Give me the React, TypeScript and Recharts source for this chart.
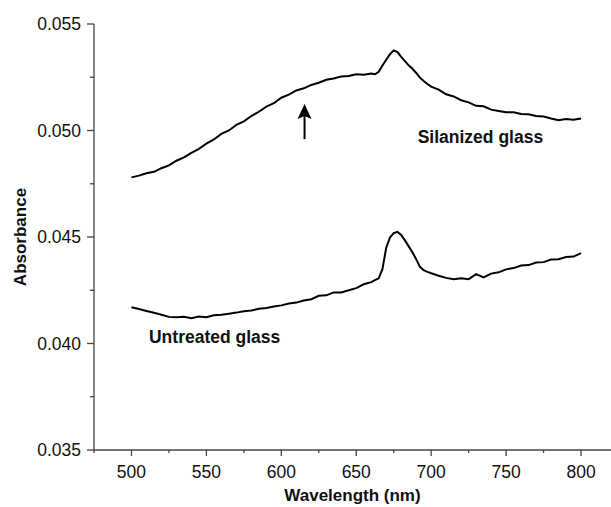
import { LineChart, Line, XAxis, YAxis, ReferenceDot } from 'recharts';

const wavelengths = [
  500, 505, 510, 515, 520, 525, 530, 535, 540, 545, 550, 555, 560, 565, 570, 575, 580, 585, 590, 595,
  600, 605, 610, 615, 620, 625, 630, 635, 640, 645, 650, 655, 660, 662.5, 665, 667.5, 670, 672.5, 675,
  677.5, 680, 682.5, 685, 687.5, 690, 692.5, 695, 697.5, 700, 705, 710, 715, 720, 725, 730, 735, 740,
  745, 750, 755, 760, 765, 770, 775, 780, 785, 790, 795, 800,
];

const silanized = [
  0.0478, 0.04788, 0.04799, 0.04806, 0.04823, 0.04836, 0.04858, 0.04874, 0.04895, 0.04914, 0.04938,
  0.04958, 0.04984, 0.05, 0.05026, 0.05043, 0.05068, 0.05088, 0.05112, 0.05128, 0.05154, 0.05168,
  0.05188, 0.05198, 0.05214, 0.05224, 0.05238, 0.05244, 0.05254, 0.05256, 0.05264, 0.05262, 0.05268,
  0.05264, 0.05276, 0.05305, 0.05332, 0.05358, 0.05376, 0.05368, 0.05346, 0.05326, 0.05306, 0.0529,
  0.0527, 0.05248, 0.05232, 0.05218, 0.05206, 0.05192, 0.0517, 0.0516, 0.05142, 0.05132, 0.05116,
  0.05114, 0.05098, 0.05092, 0.05086, 0.05086, 0.05078, 0.05076, 0.05068, 0.05066, 0.05056, 0.05048,
  0.05054, 0.0505, 0.05056,
];

const untreated = [
  0.0417, 0.04162, 0.04153, 0.04144, 0.04135, 0.04125, 0.04123, 0.04125, 0.04119, 0.04127, 0.04123,
  0.04133, 0.04135, 0.0414, 0.04145, 0.04151, 0.04155, 0.04163, 0.04167, 0.04174, 0.04179, 0.04188,
  0.04192, 0.04202, 0.04208, 0.04224, 0.04226, 0.0424, 0.0424, 0.0425, 0.0426, 0.04278, 0.04288,
  0.04298, 0.04306, 0.0435, 0.0445, 0.04498, 0.04518, 0.04524, 0.0451, 0.04484, 0.04456, 0.04428,
  0.04396, 0.0436, 0.04344, 0.04336, 0.0433, 0.04318, 0.04308, 0.04302, 0.04306, 0.04302, 0.04326,
  0.0431, 0.04328, 0.04334, 0.04348, 0.04354, 0.04366, 0.04368, 0.0438, 0.04382, 0.04394, 0.04396,
  0.04406, 0.04408, 0.04424,
];

const xMajor = [500, 550, 600, 650, 700, 750, 800];
const xTicks = [475, 500, 525, 550, 575, 600, 625, 650, 675, 700, 725, 750, 775, 800];
const yMajor = [0.035, 0.04, 0.045, 0.05, 0.055];
const yTicks = [0.035, 0.0375, 0.04, 0.0425, 0.045, 0.0475, 0.05, 0.0525, 0.055];

const data = wavelengths.map((wl, i) => ({ wl, silanized: silanized[i], untreated: untreated[i] }));

const FONT = '"Liberation Sans", Arial, sans-serif';
const AXIS = '#444';

const XTick = ({ x, y, payload }: any) => {
  const major = xMajor.includes(payload.value);
  return (
    <g>
      <line x1={x} x2={x} y1={y} y2={y + (major ? 6 : 3)} stroke={AXIS} strokeWidth={1.3} />
      {major && (
        <text x={x} y={y + 28} textAnchor="middle" fontSize={17.5} fontFamily={FONT} fill="#111">
          {payload.value}
        </text>
      )}
    </g>
  );
};

const YTick = ({ x, y, payload }: any) => {
  const major = yMajor.some((v) => Math.abs(v - payload.value) < 1e-9);
  return (
    <g>
      <line x1={x - (major ? 7 : 4)} x2={x} y1={y} y2={y} stroke={AXIS} strokeWidth={1.3} />
      {major && (
        <text x={x - 13} y={y + 6} textAnchor="end" fontSize={17.5} fontFamily={FONT} fill="#111">
          {payload.value.toFixed(3)}
        </text>
      )}
    </g>
  );
};

const XTitle = ({ viewBox }: any) => (
  <text x={viewBox.x + viewBox.width / 2} y={viewBox.y + 51} textAnchor="middle"
    fontSize={17} fontWeight="bold" fontFamily={FONT} fill="#111">
    Wavelength (nm)
  </text>
);

const YTitle = ({ viewBox }: any) => {
  const cy = viewBox.y + viewBox.height / 2;
  return (
    <text x={26} y={cy} transform={`rotate(-90 26 ${cy})`} textAnchor="middle"
      fontSize={17} fontWeight="bold" fontFamily={FONT} fill="#111">
      Absorbance
    </text>
  );
};

const Note = (text: string) => ({ cx, cy }: any) => (
  <text x={cx} y={cy} fontSize={17.5} fontWeight="bold" fontFamily={FONT} fill="#111">
    {text}
  </text>
);

const Arrow = ({ cx, cy }: any) => (
  <g>
    <line x1={cx} x2={cx} y1={cy + 10} y2={cy + 35} stroke="#000" strokeWidth={2} />
    <path d={`M${cx},${cy} L${cx + 7},${cy + 15} L${cx},${cy + 12} L${cx - 7},${cy + 15} Z`} fill="#000" />
  </g>
);

export default function App() {
  return (
    <div style={{ position: 'absolute', left: 0, top: 0, background: '#fff' }}>
      <LineChart width={611} height={507} data={data} margin={{ top: 24, right: 0, left: 0, bottom: 0 }}>
        <XAxis
          type="number"
          dataKey="wl"
          domain={[475, 820]}
          ticks={xTicks}
          interval={0}
          height={57}
          stroke={AXIS}
          strokeWidth={1.3}
          tickLine={false}
          tickSize={0}
          tickMargin={0}
          tick={<XTick />}
          label={<XTitle />}
          allowDataOverflow
        />
        <YAxis
          type="number"
          domain={[0.035, 0.055]}
          ticks={yTicks}
          interval={0}
          width={94}
          stroke={AXIS}
          strokeWidth={1.3}
          tickLine={false}
          tickSize={0}
          tickMargin={0}
          tick={<YTick />}
          label={<YTitle />}
          allowDataOverflow
        />
        <Line dataKey="silanized" type="linear" stroke="#000" strokeWidth={2} dot={false} isAnimationActive={false} />
        <Line dataKey="untreated" type="linear" stroke="#000" strokeWidth={2} dot={false} isAnimationActive={false} />
        <ReferenceDot x={691} y={0.0494} r={0} shape={Note('Silanized glass')} />
        <ReferenceDot x={511.7} y={0.04002} r={0} shape={Note('Untreated glass')} />
        <ReferenceDot x={615.5} y={0.05124} r={0} shape={Arrow} />
      </LineChart>
    </div>
  );
}
